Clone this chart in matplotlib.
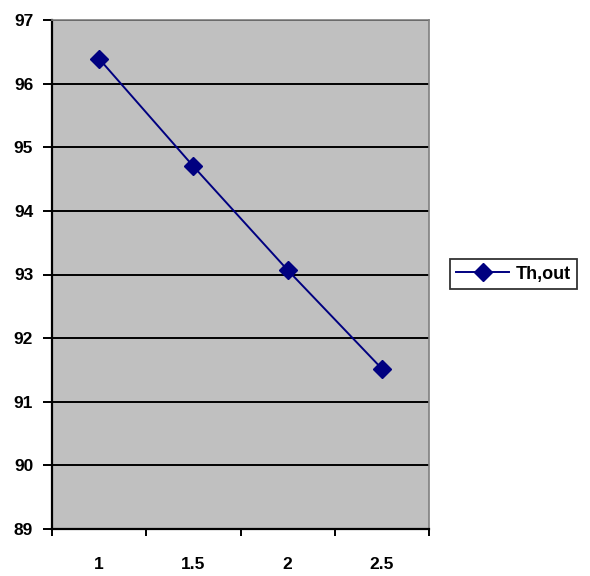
import matplotlib
matplotlib.use("Agg")
import matplotlib.pyplot as plt

categories = ["1", "1.5", "2", "2.5"]
th_out = [96.39, 94.70, 93.07, 91.52]

plt.rcParams["font.family"] = ["Liberation Sans", "DejaVu Sans"]
plt.rcParams["font.weight"] = "bold"

fig = plt.figure(figsize=(5.9, 5.76), dpi=100)
ax = fig.add_axes([52 / 590, 47 / 576, 377 / 590, 509 / 576])
ax.set_facecolor("#c0c0c0")

pos = list(range(1, len(categories) + 1))
ax.plot(pos, th_out, color="#000080", lw=1.4, marker="D", ms=9,
        mfc="#000080", mec="#000080", label="Th,out", zorder=3)

ax.set_ylim(89, 97)
ax.set_yticks(range(89, 98))
ax.set_yticklabels([str(v) for v in range(89, 98)], fontsize=12.5, fontweight="bold")
ax.yaxis.grid(True, color="black", lw=1.4)
ax.set_axisbelow(True)

# category axis: tick marks between categories, labels centred
ax.set_xlim(0.5, len(categories) + 0.5)
ax.set_xticks([p - 0.5 for p in pos] + [len(categories) + 0.5])
ax.set_xticklabels([])
ax.set_xticks(pos, minor=True)
ax.set_xticklabels(categories, minor=True, fontsize=12.5, fontweight="bold")
ax.tick_params(axis="x", which="minor", length=0, pad=20)
ax.tick_params(axis="x", which="major", direction="out", length=5, width=1.4)
ax.tick_params(axis="y", direction="out", length=6.5, width=1.4, pad=7)

for side in ("left", "bottom"):
    ax.spines[side].set_color("black")
    ax.spines[side].set_linewidth(1.6)
for side in ("top", "right"):
    ax.spines[side].set_color("#808080")
    ax.spines[side].set_linewidth(1.2)

leg = fig.legend(loc="center left", bbox_to_anchor=(450 / 590, 1 - 274 / 576),
                 frameon=True, fancybox=False, edgecolor="black",
                 prop={"size": 13, "weight": "bold"}, handlelength=2.9,
                 handletextpad=0.4, borderpad=0.35, borderaxespad=0)
leg.get_frame().set_linewidth(1.3)

fig.savefig("out.png", dpi=100)
